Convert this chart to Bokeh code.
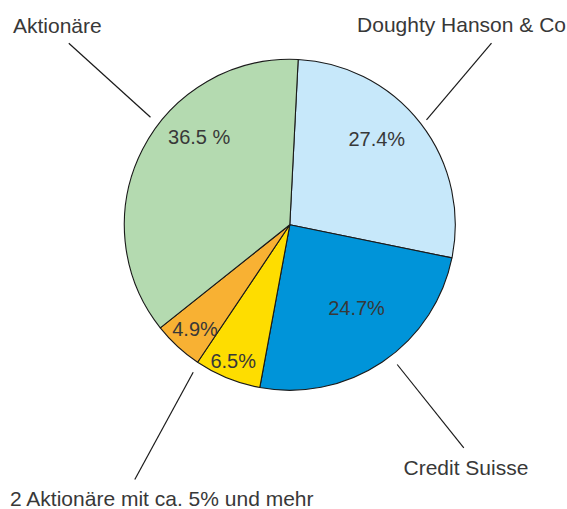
import math
from bokeh.plotting import figure
from bokeh.models import Range1d, ColumnDataSource
from bokeh.core.properties import value
from bokeh.embed import file_html
from bokeh.resources import INLINE

# ---- data (clockwise order from top) ----
categories = ["Doughty Hanson & Co", "Credit Suisse", "2 Aktionäre mit ca. 5% und mehr (a)",
              "2 Aktionäre mit ca. 5% und mehr (b)", "Aktionäre"]
shares = [27.4, 24.7, 6.5, 4.9, 36.5]
pct_labels = ["27.4%", "24.7%", "6.5%", "4.9%", "36.5 %"]
colors = ["#C7E8FA", "#0094D9", "#FEDD00", "#F8B133", "#B4DAB0"]

# ---- layout ----
W, H = 567, 509
CX, CY, R = 289.3, -224.3, 165.5
START_CW = 2.9  # degrees clockwise from 12 o'clock
FONT = "Liberation Sans"
TXT = "#383838"

p = figure(width=W, height=H, output_backend="svg", toolbar_location=None,
           x_range=Range1d(0, W), y_range=Range1d(-H, 0), min_border=0)
p.axis.visible = False
p.grid.visible = False
p.outline_line_color = None
p.background_fill_color = "white"
p.border_fill_color = "white"

total = sum(shares)
starts, ends = [], []
acc = START_CW
for s in shares:
    a0 = acc
    a1 = acc + s / total * 360.0
    starts.append(math.radians(90 - a0))
    ends.append(math.radians(90 - a1))
    acc = a1

src = ColumnDataSource(dict(start=starts, end=ends, color=colors))
p.wedge(x=CX, y=CY, radius=R, start_angle="start", end_angle="end",
        direction="clock", fill_color="color", line_color="#1a1a1a",
        line_width=1.1, source=src)

# percentage labels (hand placed as in the original), y = vertical middle
pct_x = [376.3, 356.0, 232.7, 194.5, 198.7]
pct_y = [-138.5, -307.5, -360.5, -328.5, -136.5]
p.text(x=pct_x, y=pct_y, text=pct_labels, text_font=value(FONT),
       text_font_size="20px", text_color=TXT, text_align="center",
       text_baseline="middle")

# outer labels
out_labels = ["Aktionäre", "Doughty Hanson & Co", "Credit Suisse",
              "2 Aktionäre mit ca. 5% und mehr"]
out_x = [12.5, 565.5, 403.0, 9.5]
out_y = [-24.5, -24.0, -466.5, -498.0]
out_align = ["left", "right", "left", "left"]
p.text(x=out_x, y=out_y, text=out_labels, text_font=value(FONT),
       text_font_size="21px", text_color=TXT, text_align=out_align,
       text_baseline="middle")

# leader lines
lx0 = [150.0, 426.0, 396.7, 192.7]
ly0 = [-116.7, -119.3, -364.0, -371.7]
lx1 = [68.3, 491.0, 463.3, 134.3]
ly1 = [-42.7, -42.7, -447.3, -479.0]
p.segment(x0=lx0, y0=ly0, x1=lx1, y1=ly1, line_color="#1a1a1a", line_width=1.2)

open("out.html", "w").write(file_html(p, INLINE))
